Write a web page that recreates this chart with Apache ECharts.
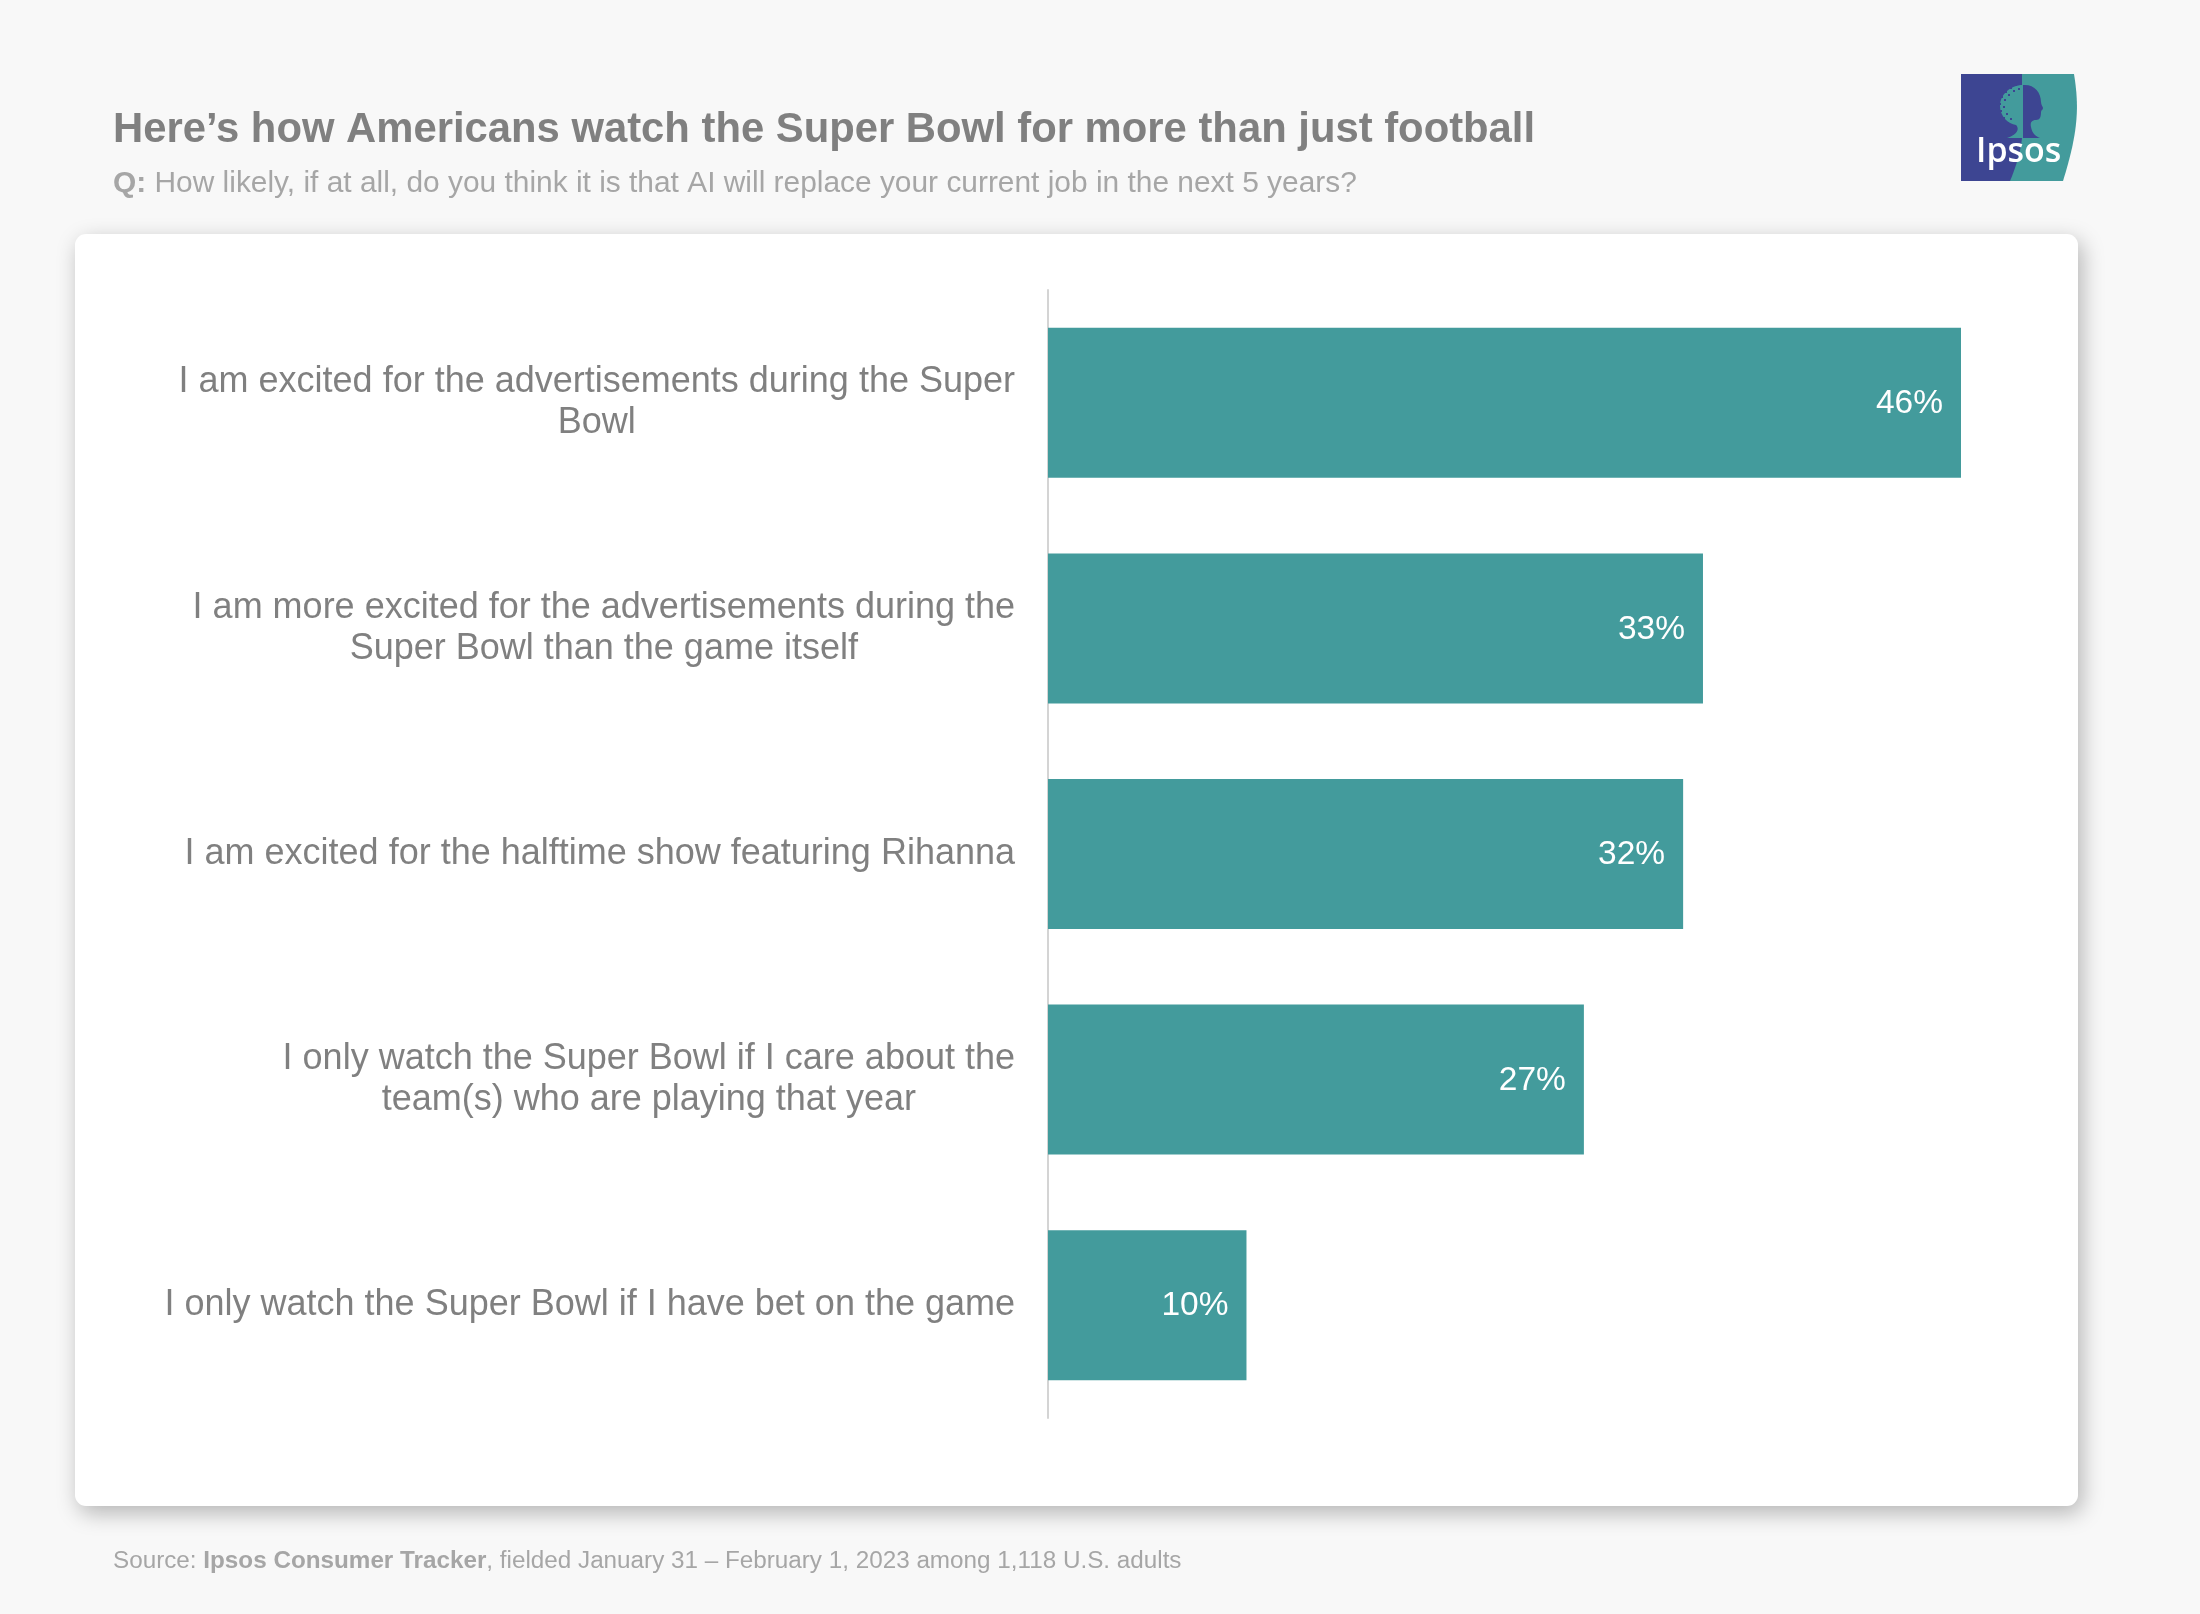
<!DOCTYPE html>
<html>
<head>
<meta charset="utf-8">
<title>Super Bowl</title>
<style>
html,body{margin:0;padding:0;background:#f8f8f8}
#main{width:2200px;height:1614px}
</style>
<script src="https://cdn.jsdelivr.net/npm/echarts@6/dist/echarts.min.js"></script>
</head>
<body>
<div id="main"></div>
<script>
var categories = [
  'I am excited for the advertisements during the Super\nBowl',
  'I am more excited for the advertisements during the\nSuper Bowl than the game itself',
  'I am excited for the halftime show featuring Rihanna',
  'I only watch the Super Bowl if I care about the\nteam(s) who are playing that year',
  'I only watch the Super Bowl if I have bet on the game'
];
var values = [46, 33, 32, 27, 10];

var FONT = '"Liberation Sans", Arial, sans-serif';
var TEAL = '#439b9c';
var PURPLE = '#3d4592';

// graphic has no plain path type, so the logo outlines are registered as shapes
function logoShape(name, d) {
  echarts.graphic.registerShape(name, echarts.graphic.extendPath(d));
}
logoShape('logoBack', 'M1961 74L2074 74C2079 105 2079 130 2063 181L1961 181Z');
logoShape('logoLeft', 'M1961 74L2022 74L2022 138C2021 150 2016 167 2010 181L1961 181Z');
logoShape('logoTree', 'M2023 85C2010 85 2000 95 2000 106C2000 116 2008 124 2016 125C2019 128 2019 134 2007 138L2023 138Z');
logoShape('logoHead', 'M2023 85C2034 84 2041 92 2041 102C2041 105 2043 107 2043 108C2043 110 2041 110 2041 112C2041 117 2040 120 2036 120C2032 120 2030 122 2031 127C2032 133 2035 136 2040 138L2023 138Z');

// speckled edge of the tree in the logo
var treeDots = [
  [2001,96],[1999,103],[2000,110],[2003,117],[2007,122],[2012,125],[2005,91],[2010,87],[2015,84],[2020,83],
  [2004,99],[2003,106],[2006,113],[2010,118],[2008,94],[2013,90],[2018,88]
];
var logo = [
  {type:'logoBack', style:{fill:TEAL}},
  {type:'logoLeft', style:{fill:PURPLE}},
  {type:'logoTree', style:{fill:TEAL}},
  {type:'logoHead', style:{fill:PURPLE}}
].concat(treeDots.map(function (p) {
  return {type:'rect', shape:{x:p[0], y:p[1], width:2, height:2}, style:{fill:PURPLE}};
})).concat([
  {type:'text', x:1976, y:135, style:{text:'Ipsos', fill:'#fff', font:'600 34px "Open Sans", sans-serif'}}
]);

var chart = echarts.init(document.getElementById('main'));
chart.setOption({
  backgroundColor: '#f8f8f8',
  animation: false,
  title: [
    {
      text: 'Here\u2019s how Americans watch the Super Bowl for more than just football',
      left: 113, top: 109, padding: 0,
      textStyle: {fontFamily: FONT, fontSize: 41.8, fontWeight: 'bold', color: '#808080'}
    },
    {
      text: '{b|Q:} How likely, if at all, do you think it is that AI will replace your current job in the next 5 years?',
      left: 113, top: 169, padding: 0,
      textStyle: {
        fontFamily: FONT, fontSize: 29.9, fontWeight: 'normal', color: '#a6a6a6',
        rich: {b: {fontFamily: FONT, fontSize: 29.9, fontWeight: 'bold', color: '#a6a6a6'}}
      }
    },
    {
      text: 'Source: {b|Ipsos Consumer Tracker}, fielded January 31 \u2013 February 1, 2023 among 1,118 U.S. adults',
      left: 113, top: 1549, padding: 0,
      textStyle: {
        fontFamily: FONT, fontSize: 24.25, fontWeight: 'normal', color: '#a6a6a6',
        rich: {b: {fontFamily: FONT, fontSize: 24.25, fontWeight: 'bold', color: '#a6a6a6'}}
      }
    }
  ],
  graphic: [
    {
      type: 'rect', z: -10,
      shape: {x: 75, y: 234, width: 2003, height: 1272, r: 11},
      style: {fill: '#fff', shadowColor: 'rgba(0,0,0,0.28)', shadowBlur: 22, shadowOffsetX: 4, shadowOffsetY: 7}
    },
    {type: 'group', children: logo}
  ],
  grid: {left: 1048, top: 290, width: 913, height: 1128},
  xAxis: {type: 'value', min: 0, max: 46, show: false},
  yAxis: {
    type: 'category',
    inverse: true,
    data: categories,
    offset: 1,
    axisTick: {show: false},
    axisLine: {show: true, lineStyle: {color: '#d4d4d4', width: 2}},
    axisLabel: {
      margin: 32,
      fontFamily: FONT,
      fontSize: 36,
      color: '#808080',
      lineHeight: 41,
      formatter: function (v) {
        return v.split('\n').map(function (s) { return '{c|' + s + '}'; }).join('\n');
      },
      rich: {c: {align: 'center', fontFamily: FONT, fontSize: 36, color: '#808080', lineHeight: 41}}
    }
  },
  series: [{
    type: 'bar',
    data: values,
    barWidth: 150,
    itemStyle: {color: TEAL},
    label: {
      show: true,
      position: 'insideRight',
      distance: 18,
      offset: [0, 1],
      formatter: '{c}%',
      fontFamily: FONT,
      fontSize: 33.5,
      color: '#fff'
    }
  }]
});
</script>
</body>
</html>
